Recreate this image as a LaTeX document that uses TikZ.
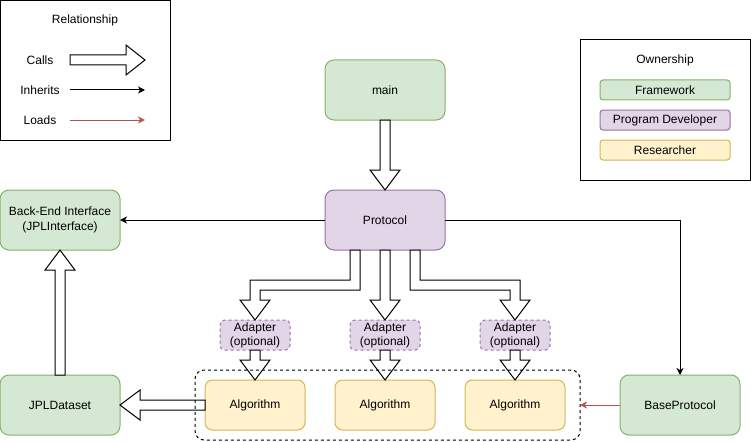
\documentclass[tikz,border=0pt]{standalone}
\usepackage{fontspec}
\setmainfont{Liberation Sans}
\usetikzlibrary{arrows.meta,calc}
\definecolor{gfill}{HTML}{D5E8D4}\definecolor{gline}{HTML}{82B366}
\definecolor{pfill}{HTML}{E1D5E7}\definecolor{pline}{HTML}{9673A6}
\definecolor{yfill}{HTML}{FFF2CC}\definecolor{yline}{HTML}{D6B656}
\definecolor{rline}{HTML}{B85450}
\begin{document}
\begin{tikzpicture}[x=1pt,y=-1pt,line width=1pt,
  font=\fontsize{12}{14.5}\selectfont,
  box/.style={draw,rounded corners=9pt,minimum width=120pt,minimum height=60pt,align=center,inner sep=0pt,outer sep=0pt},
  fw/.style={box,fill=gfill,draw=gline},
  dev/.style={box,fill=pfill,draw=pline},
  alg/.style={box,fill=yfill,draw=yline,minimum width=100pt,minimum height=50pt,rounded corners=7.5pt},
  adapter/.style={dev,dash pattern=on 3pt off 3pt,minimum width=70pt,minimum height=30pt,rounded corners=4.5pt,font=\fontsize{12}{14}\selectfont},
  tag/.style={box,rounded corners=3pt,minimum width=130pt,minimum height=20pt},
  legend/.style={draw,inner sep=0pt,outer sep=0pt},
  lbl/.style={inner sep=0pt},
  block/.style={draw,fill=white,line join=miter},
  inh/.style={-{Stealth[length=7pt,width=7pt,inset=2pt]}},
  lds/.style={draw=rline,-{Stealth[length=7pt,width=7pt,inset=2pt]}}]
\useasboundingbox (0,0) rectangle (751,441);
% legends
\node[legend,minimum width=170pt,minimum height=140pt] (rel) at (85.5,70.5) {};
\node[lbl] (relt) at (85,20) {Relationship};
\node[lbl] (lc) at (40,60) {Calls};
\node[lbl] (li) at (40,90) {Inherits};
\node[lbl] (ll) at (40,120) {Loads};
\coordinate (c1) at (70,60); \coordinate (c2) at (145,60);
\coordinate (i1) at (70,90); \coordinate (i2) at (145,90);
\coordinate (l1) at (70,120); \coordinate (l2) at (145,120);
\draw[block] ($(c1)+(0,-5)$) -- ($(c2)+(-19,-5)$) -- ++(0,-10) -- (c2) -- ++(-19,15) -- ++(0,-10) -- ($(c1)+(0,5)$) -- cycle;
\draw[inh] (i1) -- (i2);
\draw[lds] (l1) -- (l2);
\node[legend,minimum width=170pt,minimum height=140pt] (own) at (665,110) {};
\node[lbl] (ownt) at (665,60) {Ownership};
\node[tag,fill=gfill,draw=gline] (t1) at (665,90) {Framework};
\node[tag,fill=pfill,draw=pline] (t2) at (665,120) {Program Developer};
\node[tag,fill=yfill,draw=yline] (t3) at (665,150) {Researcher};
% main nodes
\node[fw] (main) at (385,90) {main};
\node[dev] (proto) at (385,220) {Protocol};
\node[fw] (be) at (60,220) {Back-End Interface\\(JPLInterface)};
\node[fw] (jpl) at (60,405) {JPLDataset};
\node[fw] (bp) at (680,405) {BaseProtocol};
\node[adapter] (a1) at (255,335) {Adapter\\(optional)};
\node[adapter] (a2) at (385,335) {Adapter\\(optional)};
\node[adapter] (a3) at (515,335) {Adapter\\(optional)};
\node[alg] (g1) at (255,405) {Algorithm};
\node[alg] (g2) at (385,405) {Algorithm};
\node[alg] (g3) at (515,405) {Algorithm};
% block arrows
\draw[block] ($(main.south)+(-5,0)$) -- ($(proto.north)+(-5,-20)$) -- ++(-10,0) -- (proto.north) -- ++(15,-20) -- ++(-10,0) -- ($(main.south)+(5,0)$) -- cycle;
\draw[block] ($(proto.south)+(-35,0)$) -- ($(proto.south)+(-35,30)$) -- ($(a1.north)+(-5,-40)$) -- ($(a1.north)+(-5,-20)$) -- ++(-10,0) -- (a1.north) -- ++(15,-20) -- ++(-10,0) -- ($(a1.north)+(5,-30)$) -- ($(proto.south)+(-25,40)$) -- ($(proto.south)+(-25,0)$) -- cycle;
\draw[block] ($(proto.south)+(-5,0)$) -- ($(a2.north)+(-5,-20)$) -- ++(-10,0) -- (a2.north) -- ++(15,-20) -- ++(-10,0) -- ($(proto.south)+(5,0)$) -- cycle;
\draw[block] ($(proto.south)+(25,0)$) -- ($(proto.south)+(25,40)$) -- ($(a3.north)+(-5,-30)$) -- ($(a3.north)+(-5,-20)$) -- ++(-10,0) -- (a3.north) -- ++(15,-20) -- ++(-10,0) -- ($(a3.north)+(5,-40)$) -- ($(proto.south)+(35,30)$) -- ($(proto.south)+(35,0)$) -- cycle;
\foreach \a/\g in {a1/g1,a2/g2,a3/g3}{
  \draw[block] ($(\a.south)+(-5,0)$) -- ($(\g.north)+(-5,-20)$) -- ++(-10,0) -- (\g.north) -- ++(15,-20) -- ++(-10,0) -- ($(\a.south)+(5,0)$) -- cycle;
}
\draw[block] ($(jpl.north)+(-5,0)$) -- ($(be.south)+(-5,20)$) -- ++(-10,0) -- (be.south) -- ++(15,20) -- ++(-10,0) -- ($(jpl.north)+(5,0)$) -- cycle;
\draw[block] ($(g1.west)+(0,-5)$) -- ($(jpl.east)+(20,-5)$) -- ++(0,-10) -- (jpl.east) -- ++(20,15) -- ++(0,-10) -- ($(g1.west)+(0,5)$) -- cycle;
% group
\node[draw,dash pattern=on 3pt off 3pt,rounded corners=9pt,minimum width=385pt,minimum height=70pt,inner sep=0pt,outer sep=0pt] (grp) at (387.5,405) {};
% thin arrows
\draw[inh] (proto.west) -- (be.east);
\draw[inh] (proto.east) -| (bp.north);
\draw[lds] (bp.west) -- (grp.east);
\end{tikzpicture}
\end{document}
